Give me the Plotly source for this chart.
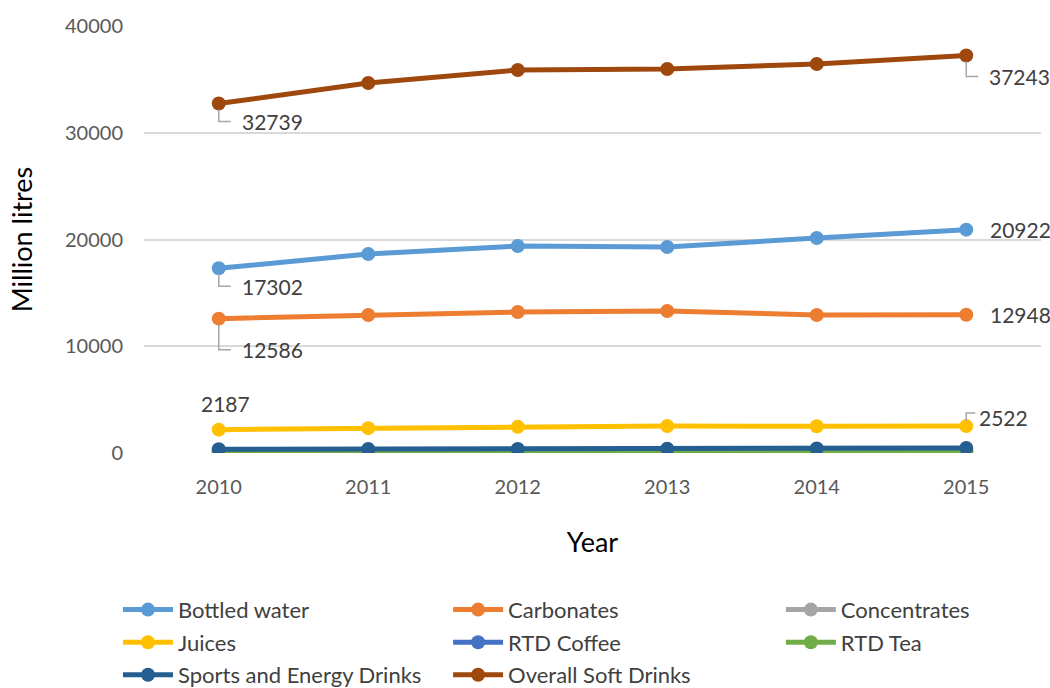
import plotly.graph_objects as go

years = [2010, 2011, 2012, 2013, 2014, 2015]

bottled_water = [17302, 18640, 19390, 19300, 20140, 20922]
carbonates = [12586, 12930, 13210, 13300, 12930, 12948]
concentrates = [140, 140, 135, 135, 130, 130]
juices = [2187, 2330, 2450, 2530, 2500, 2522]
rtd_coffee = [40, 45, 50, 55, 60, 65]
rtd_tea = [180, 190, 200, 210, 230, 240]
sports_energy = [350, 370, 385, 395, 430, 470]
overall = [32739, 34660, 35880, 35970, 36440, 37243]

series = [
    ("Bottled water", bottled_water, "#5B9BD5", "legend"),
    ("Carbonates", carbonates, "#ED7D31", "legend2"),
    ("Concentrates", concentrates, "#A5A5A5", "legend3"),
    ("Juices", juices, "#FFC000", "legend"),
    ("RTD Coffee", rtd_coffee, "#4472C4", "legend2"),
    ("RTD Tea", rtd_tea, "#70AD47", "legend3"),
    ("Sports and Energy Drinks", sports_energy, "#255E91", "legend"),
    ("Overall Soft Drinks", overall, "#9E480E", "legend2"),
]

FONT = "Lato, 'Open Sans', sans-serif"
LABEL_COLOR = "#404040"
LEADER = "#A6A6A6"

# plot area geometry (px) used to turn pixel offsets into axis units
W, H = 1050, 688
ML, MR, MT, MB = 144, 9, 26, 235
X_RANGE = [2009.5, 2015.5]
Y_RANGE = [0, 40000]
PX_X = (W - ML - MR) / (X_RANGE[1] - X_RANGE[0])
PX_Y = (H - MT - MB) / (Y_RANGE[1] - Y_RANGE[0])

fig = go.Figure()
for name, vals, color, leg in series:
    fig.add_trace(go.Scatter(
        x=years, y=vals, name=name, mode="lines+markers",
        line=dict(color=color, width=5),
        marker=dict(color=color, size=14, symbol="circle"),
        legend=leg, legendgroup=name,
    ))

# data labels: (series values, index, anchor, x shift px, y shift px, leader drop px or None)
labels = [
    (overall, 0, "left", 21, -18, -18),
    (overall, 5, "left", 21, -21, -21),
    (bottled_water, 0, "left", 21, -18, -18),
    (bottled_water, 5, "left", 22, 0, None),
    (carbonates, 0, "left", 21, -31, -31),
    (carbonates, 5, "left", 22, 0, None),
    (juices, 0, "center", 7, 26, None),
    (juices, 5, "left", 11, 9, 13),
]

for vals, i, anchor, dx, dy, drop in labels:
    fig.add_annotation(
        x=years[i], y=vals[i], text=str(vals[i]), showarrow=False,
        xanchor=anchor, yanchor="middle", xshift=dx, yshift=dy,
        font=dict(family=FONT, size=21, color=LABEL_COLOR),
    )
    if drop is not None:
        x0 = years[i]
        y0 = vals[i] + (5 if drop > 0 else -6) / PX_Y
        y1 = vals[i] + drop / PX_Y
        x1 = x0 + (12 if drop < 0 else 9) / PX_X
        fig.add_shape(
            type="path", path=f"M {x0} {y0} L {x0} {y1} L {x1} {y1}",
            xref="x", yref="y",
            line=dict(color=LEADER, width=1.5), layer="above",
        )

legend_common = dict(
    orientation="v", font=dict(family=FONT, size=22, color=LABEL_COLOR),
    bgcolor="rgba(0,0,0,0)", traceorder="grouped", tracegroupgap=1,
    itemwidth=50, xanchor="left", yanchor="top",
)
LEG_Y = -0.318

fig.update_layout(
    width=W, height=H,
    margin=dict(l=ML, r=MR, t=MT, b=MB, autoexpand=False),
    paper_bgcolor="white", plot_bgcolor="white",
    font=dict(family=FONT, color=LABEL_COLOR),
    showlegend=True,
    legend=dict(legend_common, x=-0.029, y=LEG_Y),
    legend2=dict(legend_common, x=0.339, y=LEG_Y),
    legend3=dict(legend_common, x=0.710, y=LEG_Y),
    xaxis=dict(
        range=X_RANGE, tickvals=years, ticktext=[str(y) for y in years],
        showgrid=False, zeroline=False, showline=False, ticks="",
        tickangle=0, ticklabelstandoff=20,
        tickfont=dict(family=FONT, size=20, color="#595959"),
        title=dict(text="Year", font=dict(family=FONT, size=27, color="black"), standoff=36),
    ),
    yaxis=dict(
        range=Y_RANGE, tickvals=[0, 10000, 20000, 30000, 40000],
        ticktext=["0", "10000", "20000", "30000", "40000"],
        showgrid=True, gridcolor="#D9D9D9", gridwidth=1.5,
        zeroline=False, showline=False, ticks="",
        ticklabelstandoff=20,
        tickfont=dict(family=FONT, size=20, color="#595959"),
        title=dict(text="Million litres", font=dict(family=FONT, size=27, color="black"), standoff=24),
    ),
)

fig.write_html("out.html")
